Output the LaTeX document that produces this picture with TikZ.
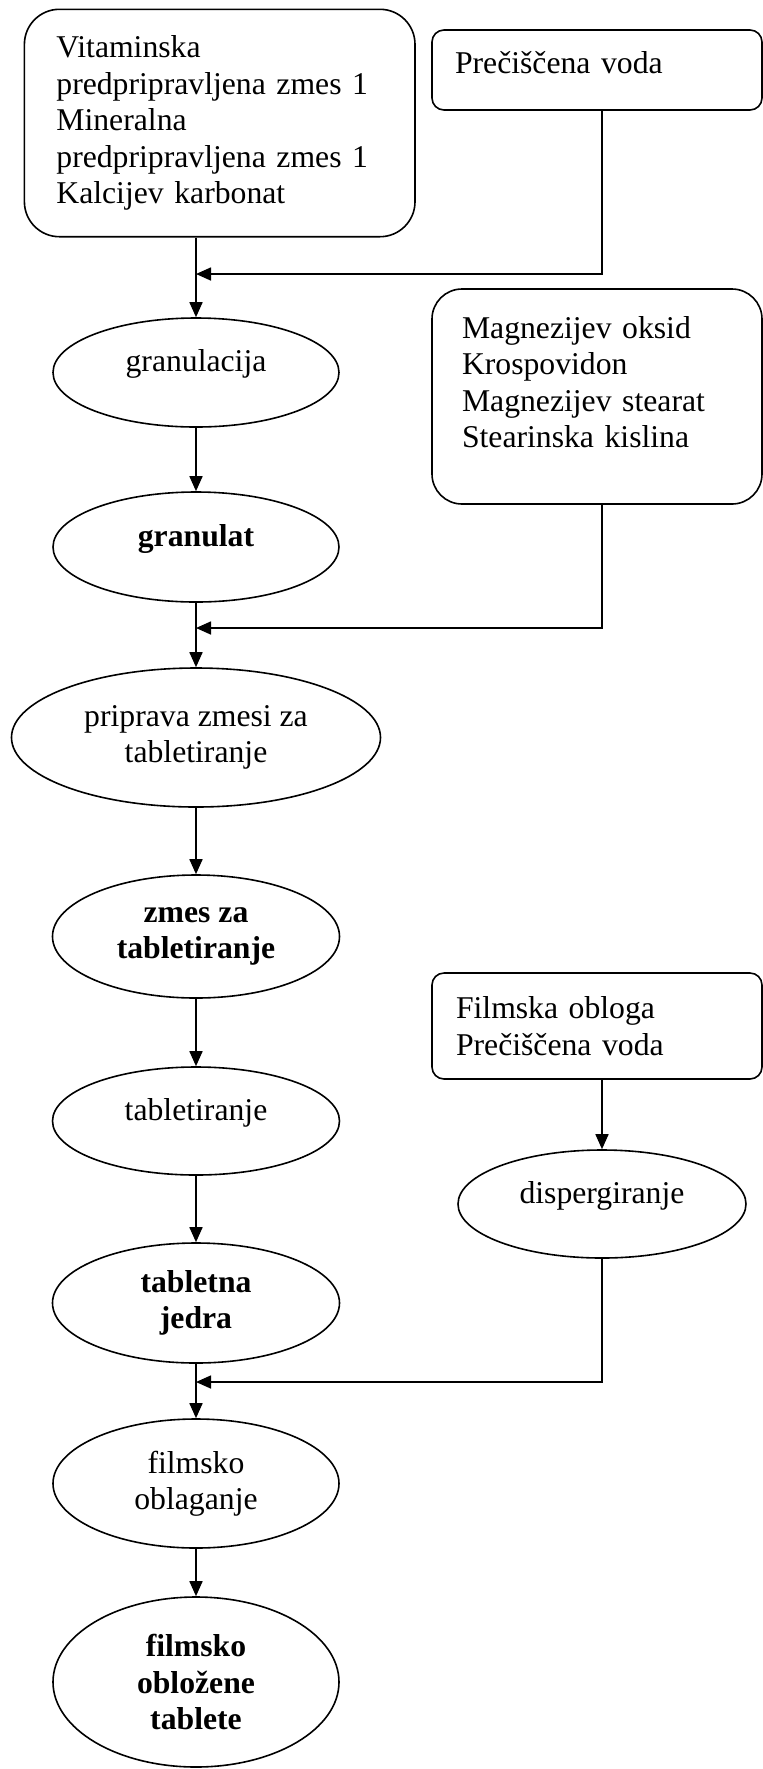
\documentclass[tikz,border=0pt]{standalone}
\usepackage{fontspec}
\setmainfont{Liberation Serif}
\usetikzlibrary{shapes.geometric,arrows.meta,calc}
\begin{document}
\begin{tikzpicture}[x=0.5pt,y=-0.5pt,line width=0.8pt,
  every node/.style={font=\fontsize{15.85pt}{18.25pt}\selectfont},
  proc/.style={ellipse,draw,inner sep=0pt,align=center},
  up/.style={text depth=12pt},
  rbox/.style={draw,rectangle,align=left,inner ysep=0pt},
  arr/.style={-{Triangle[length=7.5pt,width=6.5pt]}}]
\useasboundingbox (0,0) rectangle (763,1769);
\coordinate (rc) at (602,0);
\coordinate (j1) at (196,274);
\coordinate (j2) at (196,628);
\coordinate (j3) at (196,1382);
% input boxes
\node[rbox,rounded corners=17.5pt,minimum width=195.3pt,minimum height=113.7pt,
      text width=163.3pt,inner xsep=16pt] (box1) at (219.7,123)
  {Vitaminska\\ predpripravljena zmes 1\\ Mineralna\\ predpripravljena zmes 1\\ Kalcijev karbonat};
\node[rbox,text depth=8pt,rounded corners=6pt,minimum width=165pt,minimum height=40pt,
      text width=142pt,inner xsep=11.5pt] (box2) at (597,70) {Prečiščena voda};
\node[rbox,rounded corners=15pt,minimum width=165pt,minimum height=107.5pt,
      text width=135pt,inner xsep=15pt] (box3) at (597,396.5)
  {Magnezijev oksid\\ Krospovidon\\ Magnezijev stearat\\ Stearinska kislina\rule[-14.5pt]{0pt}{14.5pt}};
\node[rbox,rounded corners=6pt,minimum width=165pt,minimum height=53pt,
      text width=141pt,inner xsep=12pt] (box4) at (597,1026)
  {Filmska obloga\\ Prečiščena voda};
% process ellipses
\node[proc,up,minimum width=143pt,minimum height=54.5pt] (gran) at (196,372.5) {granulacija};
\node[proc,up,minimum width=143pt,minimum height=55pt,font=\fontsize{15.85pt}{18.25pt}\selectfont\bfseries] (granulat) at (196,547) {granulat};
\node[proc,minimum width=184.5pt,minimum height=69.5pt] (prip) at (196,737.5) {priprava zmesi za\\ tabletiranje};
\node[proc,minimum width=143.5pt,minimum height=61.5pt,font=\fontsize{15.85pt}{18.25pt}\selectfont\bfseries] (zmes) at (196,936.5) {zmes za\\ tabletiranje};
\node[proc,up,minimum width=143.5pt,minimum height=54pt] (tabl) at (196,1121) {tabletiranje};
\node[proc,minimum width=143.5pt,minimum height=60pt,font=\fontsize{15.85pt}{18.25pt}\selectfont\bfseries] (tabletna) at (196,1303) {tabletna\\ jedra};
\node[proc,up,minimum width=144pt,minimum height=54pt] (disp) at (602,1204) {dispergiranje};
\node[proc,minimum width=143pt,minimum height=64.5pt] (film) at (196,1483.5) {filmsko\\ oblaganje};
\node[proc,minimum width=143pt,minimum height=85pt,font=\fontsize{15.85pt}{18.25pt}\selectfont\bfseries] (final) at (196,1682) {filmsko\\ obložene\\ tablete};
% connectors
\draw[arr] (box1.south -| gran.north) -- (gran.north);
\draw[arr] (box2.south -| rc) |- (j1);
\draw[arr] (gran) -- (granulat);
\draw[arr] (granulat) -- (prip);
\draw[arr] (box3.south -| rc) |- (j2);
\draw[arr] (prip) -- (zmes);
\draw[arr] (zmes) -- (tabl);
\draw[arr] (tabl) -- (tabletna);
\draw[arr] (box4.south -| disp.north) -- (disp.north);
\draw[arr] (disp) |- (j3);
\draw[arr] (tabletna) -- (film);
\draw[arr] (film) -- (final);
\end{tikzpicture}
\end{document}
